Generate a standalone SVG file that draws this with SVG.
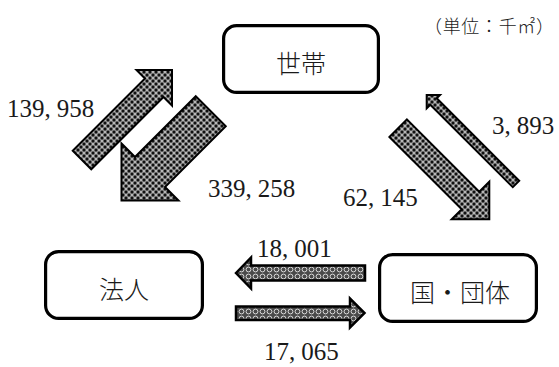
<svg xmlns="http://www.w3.org/2000/svg" width="559" height="367" viewBox="0 0 559 367">
  <style>
    .box { fill: #ffffff; stroke: #000000; stroke-width: 3.2; }
    .lbl { font-family: "Noto Sans CJK JP", sans-serif; font-size: 25px; font-weight: 300; fill: #1a1a1a; text-anchor: middle; dominant-baseline: central; }
    .num { font-family: "Liberation Serif", "DejaVu Serif", serif; font-size: 25px; fill: #1a1a1a; }
    .unit { font-family: "Noto Sans CJK JP", sans-serif; font-size: 18px; font-weight: 300; fill: #1a1a1a; }
    .darr { fill: url(#dots); stroke: #000000; stroke-width: 2; stroke-linejoin: miter; }
    .harr { fill: url(#rings); stroke: #000000; stroke-width: 2.5; stroke-linejoin: miter; }
  </style>
  <defs>
    <pattern id="dots" patternUnits="userSpaceOnUse" width="6" height="6">
      <rect width="6" height="6" fill="#8c8c8c"/>
      <circle cx="0" cy="0" r="1.5" fill="#111"/>
      <circle cx="6" cy="0" r="1.5" fill="#111"/>
      <circle cx="0" cy="6" r="1.5" fill="#111"/>
      <circle cx="6" cy="6" r="1.5" fill="#111"/>
      <circle cx="3" cy="3" r="1.5" fill="#111"/>
      <circle cx="3" cy="0" r="0.8" fill="#eee"/>
      <circle cx="0" cy="3" r="0.8" fill="#eee"/>
      <circle cx="6" cy="3" r="0.8" fill="#eee"/>
      <circle cx="3" cy="6" r="0.8" fill="#eee"/>
    </pattern>
    <pattern id="rings" patternUnits="userSpaceOnUse" width="7" height="7">
      <rect width="7" height="7" fill="#4a4a4a"/>
      <circle cx="3.5" cy="3.5" r="2.4" fill="none" stroke="#d8d8d8" stroke-width="1"/>
    </pattern>
  </defs>

  <text class="unit" x="424" y="33" textLength="130" lengthAdjust="spacing">（単位：千㎡）</text>

  <g id="node-household">
    <rect class="box" x="223.6" y="25.6" width="154.8" height="66.8" rx="13"/>
    <text class="lbl" x="301" y="62">世帯</text>
  </g>
  <g id="node-corporation">
    <rect class="box" x="45.6" y="251.6" width="156.8" height="66.8" rx="13"/>
    <text class="lbl" x="124" y="288">法人</text>
  </g>
  <g id="node-government">
    <rect class="box" x="379.6" y="254.6" width="156.8" height="66.8" rx="13"/>
    <text class="lbl" x="460" y="291">国・団体</text>
  </g>

  <g id="connectors">
    <polygon class="darr" points="72.75,150.75 145,78.5 136.5,70 172,70 172,105.5 163.5,97 91.25,169.25"/>
    <polygon class="darr" points="195.75,96.25 225.75,126.25 165,187 178.5,200.5 121.5,200.5 121.5,143.5 135,157"/>
    <polygon class="darr" points="406.9,119.4 479.25,191.75 489.3,181.7 489.3,219.3 451.7,219.3 461.75,209.25 389.4,136.9"/>
    <polygon class="darr" stroke-width="1.6" points="519.2,180.8 436.7,98.3 440,95 426.7,95 426.7,108.3 430.3,104.7 512.8,187.2"/>
    <polygon class="harr" points="236,273 251,257.5 251,265.5 365,265.5 365,280.5 251,280.5 251,288.5"/>
    <polygon class="harr" points="236,306.5 350,306.5 350,298.5 364.5,313 350,327.5 350,320 236,320"/>
  </g>

  <g id="connector-labels">
    <text class="num" x="7" y="116.5">139,<tspan dx="6">958</tspan></text>
    <text class="num" x="208" y="197">339,<tspan dx="6">258</tspan></text>
    <text class="num" x="343" y="206">62,<tspan dx="6">145</tspan></text>
    <text class="num" x="492" y="134">3,<tspan dx="6">893</tspan></text>
    <text class="num" x="257" y="256.5">18,<tspan dx="6">001</tspan></text>
    <text class="num" x="264" y="359.5">17,<tspan dx="6">065</tspan></text>
  </g>
</svg>
